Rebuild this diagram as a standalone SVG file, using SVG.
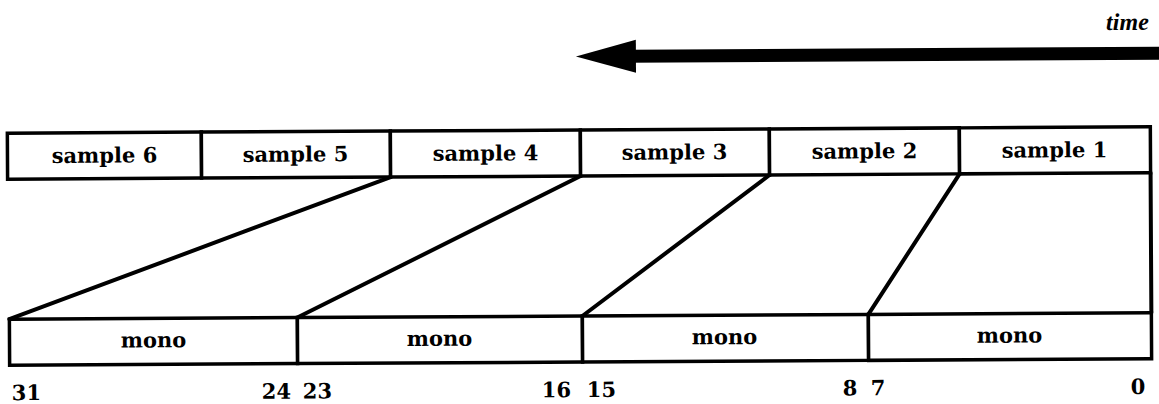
<svg xmlns="http://www.w3.org/2000/svg" width="1159" height="404" viewBox="0 0 1159 404">
<style>
.box{fill:#fff;stroke:#000;stroke-width:3.5}
.ln{stroke:#000;stroke-width:4;fill:none;stroke-linecap:round}
.t{font-family:"DejaVu Serif","Liberation Serif",serif;font-weight:bold;font-size:21px;fill:#000;text-anchor:middle}
.n{font-family:"DejaVu Serif","Liberation Serif",serif;font-weight:bold;font-size:21px;fill:#000}
</style>
<rect width="1159" height="404" fill="#fff"/>
<g transform="rotate(-0.32 579 250)">
<g id="time-arrow">
<rect x="630" y="50" width="540" height="13" fill="#000"/>
<polygon points="577,56.5 637,40 637,73" fill="#000"/>
<text x="1150" y="33" style="font-family:'Liberation Serif',serif;font-weight:bold;font-style:italic;font-size:24px;text-anchor:end">time</text>
</g>
<g id="samples">
<g id="sample6"><rect class="box" x="8" y="130" width="194" height="46"/><text class="t" x="105" y="160">sample 6</text></g>
<g id="sample5"><rect class="box" x="202" y="130" width="189" height="46"/><text class="t" x="296" y="160">sample 5</text></g>
<g id="sample4"><rect class="box" x="391" y="130" width="190" height="46"/><text class="t" x="486" y="160">sample 4</text></g>
<g id="sample3"><rect class="box" x="581" y="130" width="189" height="46"/><text class="t" x="675" y="160">sample 3</text></g>
<g id="sample2"><rect class="box" x="770" y="130" width="190" height="46"/><text class="t" x="865" y="160">sample 2</text></g>
<g id="sample1"><rect class="box" x="960" y="130" width="191" height="46"/><text class="t" x="1055" y="160">sample 1</text></g>
</g>
<g id="monos">
<g id="mono1"><rect class="box" x="9" y="316" width="288" height="46"/><text class="t" x="153" y="345">mono</text></g>
<g id="mono2"><rect class="box" x="297" y="316" width="285" height="46"/><text class="t" x="439" y="345">mono</text></g>
<g id="mono3"><rect class="box" x="582" y="316" width="286" height="46"/><text class="t" x="724" y="345">mono</text></g>
<g id="mono4"><rect class="box" x="868" y="316" width="283" height="46"/><text class="t" x="1009" y="345">mono</text></g>
</g>
<g id="connectors">
<line class="ln" x1="391" y1="176" x2="9" y2="316"/>
<line class="ln" x1="581" y1="176" x2="297" y2="316"/>
<line class="ln" x1="770" y1="176" x2="582" y2="316"/>
<line class="ln" x1="960" y1="176" x2="868" y2="316"/>
<line class="ln" x1="1151" y1="176" x2="1151" y2="316"/>
</g>
<g id="bits">
<text class="n" x="11" y="397">31</text>
<text class="n" x="261" y="397">24</text>
<text class="n" x="302" y="397">23</text>
<text class="n" x="541" y="397">16</text>
<text class="n" x="586" y="397">15</text>
<text class="n" x="842" y="397">8</text>
<text class="n" x="870" y="397">7</text>
<text class="n" x="1130" y="397">0</text>
</g>
</g>
</svg>
